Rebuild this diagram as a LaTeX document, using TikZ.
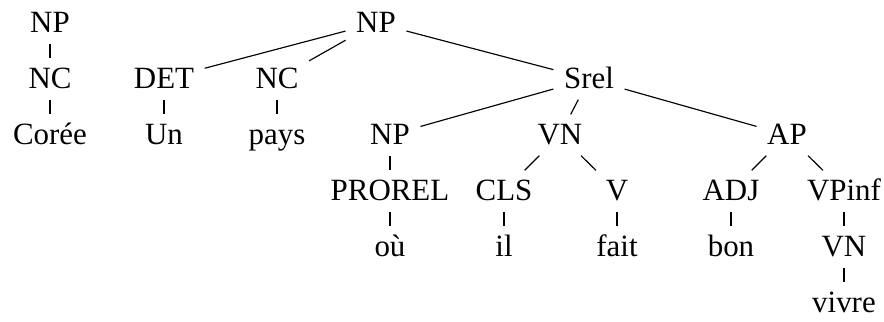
\documentclass[tikz,border=0pt]{standalone}
\usepackage{fontspec}
\setmainfont{Liberation Serif}
\usepackage{tikz}
\usetikzlibrary{positioning}

\tikzset{
  cat/.style={anchor=base, font=\fontsize{10.7}{12}\selectfont, text height=6.9pt, text depth=0pt, inner xsep=3.5pt, inner ysep=3.5pt},
}

\begin{document}
\begin{tikzpicture}[x=0.346pt, y=-0.346pt]
      \useasboundingbox (0,0) rectangle (884,322);
      % left tree
      \node[cat] (np1) at (50,33) {NP};
      \node[cat] (nc1) at (50,89) {NC};
      \node[cat] (coree) at (50,145) {Corée};
      % main tree
      \node[cat] (np0) at (376,33) {NP};
      \node[cat] (det) at (164,89) {DET};
      \node[cat] (un) at (164,145) {Un};
      \node[cat] (nc2) at (277,89) {NC};
      \node[cat] (pays) at (277,145) {pays};
      \node[cat] (srel) at (589,89) {Srel};
      \node[cat] (np2) at (390,145) {NP};
      \node[cat] (prorel) at (390,201) {PROREL};
      \node[cat] (ou) at (390,257) {où};
      \node[cat] (vn1) at (560,145) {VN};
      \node[cat] (cls) at (504,201) {CLS};
      \node[cat] (il) at (504,257) {il};
      \node[cat] (v) at (617,201) {V};
      \node[cat] (fait) at (617,257) {fait};
      \node[cat] (ap) at (787,145) {AP};
      \node[cat] (adj) at (731,201) {ADJ};
      \node[cat] (bon) at (731,257) {bon};
      \node[cat] (vpinf) at (844,201) {VPinf};
      \node[cat] (vn2) at (844,257) {VN};
      \node[cat] (vivre) at (844,313) {vivre};
      % edges
      \draw (np1)--(nc1);
      \draw (nc1)--(coree);
      \draw (np0)--(det);
      \draw (np0)--(nc2);
      \draw (np0)--(srel);
      \draw (det)--(un);
      \draw (nc2)--(pays);
      \draw (srel)--(np2);
      \draw (srel)--(vn1);
      \draw (srel)--(ap);
      \draw (np2)--(prorel);
      \draw (prorel)--(ou);
      \draw (vn1)--(cls);
      \draw (vn1)--(v);
      \draw (cls)--(il);
      \draw (v)--(fait);
      \draw (ap)--(adj);
      \draw (ap)--(vpinf);
      \draw (adj)--(bon);
      \draw (vpinf)--(vn2);
      \draw (vn2)--(vivre);
    \end{tikzpicture}
\end{document}
